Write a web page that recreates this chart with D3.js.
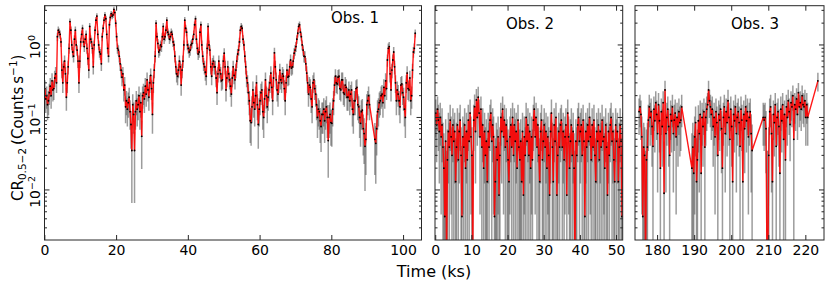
<!DOCTYPE html>
<html><head><meta charset="utf-8">
<script src="https://cdn.jsdelivr.net/npm/d3@7"></script>
<style>body{margin:0;background:#fff} text{font-family:"DejaVu Sans",sans-serif;fill:#000}</style>
</head><body><svg id="c" width="830" height="286"></svg>
<script>
// ---------------- data ----------------
const binKs = 0.25;
const obs1Start = 0;
const obs1Rate = [
0.25,0.18,0.2,0.15,0.17,0.22,0.27,0.2,0.32,0.24,0.25,0.35,0.4,0.3,1.3,1.6,1.5,1.4,1.1,0.45,
0.3,0.5,0.6,0.4,0.19,0.3,0.5,0.9,2.1,1.6,1.0,0.8,0.7,1.2,1.6,1.0,0.85,0.6,0.3,0.6,
1.1,1.4,1.7,1.1,0.95,1.2,1.4,0.9,0.65,0.45,1.8,1.2,1.1,0.9,0.5,1.0,1.6,2.2,2.5,1.4,
1.0,0.8,0.75,0.55,1.3,1.7,2.2,2.6,2.3,1.4,0.9,0.7,1.9,2.4,2.7,2.5,2.6,3.1,2.8,2.0,
1.3,0.9,0.85,0.7,0.55,0.45,0.36,0.4,0.24,0.28,0.14,0.17,0.13,0.16,0.19,0.12,0.08,0.035,0.15,0.11,
0.035,0.12,0.17,0.13,0.15,0.2,0.12,0.16,0.055,0.2,0.22,0.18,0.27,0.21,0.33,0.24,0.19,0.3,0.38,0.25,
0.11,0.3,0.45,0.7,2.0,1.3,1.05,0.8,0.85,1.0,0.95,1.3,1.8,1.2,1.3,1.6,2.2,1.5,1.4,1.2,
1.3,1.5,1.4,1.1,1.0,0.7,0.5,0.4,0.37,0.45,0.6,0.5,0.28,0.45,0.6,1.0,2.2,1.7,1.5,1.0,
0.9,0.8,0.85,1.0,1.05,1.2,1.4,1.9,2.3,1.2,0.9,0.75,0.8,1.5,1.9,1.0,0.7,0.55,0.5,0.42,
0.37,0.9,1.8,1.0,0.85,0.5,0.37,0.55,0.6,0.5,0.5,0.35,0.22,0.4,0.6,0.45,0.4,0.32,0.33,0.6,
0.77,0.5,0.24,0.35,0.5,0.4,0.33,0.27,0.21,0.35,0.5,0.38,0.33,0.45,0.6,0.75,0.85,1.1,1.6,1.8,
1.7,1.2,1.0,0.7,0.5,0.35,0.3,0.22,0.17,0.09,0.085,0.14,0.24,0.16,0.13,0.2,0.3,0.15,0.08,0.13,
0.17,0.22,0.24,0.12,0.1,0.18,0.33,0.2,0.14,0.19,0.24,0.3,0.41,0.26,0.17,0.35,0.78,0.5,0.33,0.24,
0.21,0.3,0.45,0.33,0.3,0.4,0.37,0.25,0.17,0.3,0.45,0.36,0.37,0.5,0.62,0.48,0.5,0.6,0.77,0.85,
0.95,1.2,1.45,1.8,1.9,1.5,1.3,1.0,0.85,0.7,0.69,0.55,0.41,0.3,0.21,0.28,0.26,0.18,0.14,0.3,
0.33,0.25,0.21,0.15,0.1,0.13,0.12,0.09,0.075,0.11,0.11,0.13,0.09,0.12,0.14,0.1,0.048,0.1,0.11,0.085,
0.083,0.13,0.17,0.28,0.37,0.3,0.29,0.36,0.37,0.25,0.24,0.33,0.33,0.22,0.21,0.28,0.26,0.19,0.19,0.24,
0.17,0.21,0.24,0.13,0.11,0.17,0.17,0.25,0.26,0.15,0.14,0.1,0.083,0.12,0.126,0.07,0.06,0.04,0.05,0.15,
0.17,0.2,0.15,null,null,null,null,null,0.05,0.044,0.07,0.12,0.13,0.16,0.17,0.2,0.21,0.16,0.26,0.2,
0.32,0.25,0.62,0.9,0.95,0.4,0.24,0.45,0.62,0.8,0.5,0.3,0.17,0.24,0.21,0.17,0.14,0.28,0.29,0.22,
0.19,0.13,0.1,0.3,0.41,0.25,0.24,0.35,0.17,0.2,0.45,0.8,0.9,1.45
];
const obs2Start = 0;
const obs2Rate = [
0.115,0.079,0.13,0.092,0.064,0.1,0.054,0.079,0.039,0.02,0.0043,0.047,0,0.026,0.064,0.039,0.092,0.054,0.03,0.079,
0.047,0.064,0.013,0.039,0.079,0.026,0.064,0.092,0.03,0.0043,0.054,0.039,0.079,0.02,0.064,0.026,0.092,0.047,0.115,0.054,
0.03,0,0.092,0.141,0.064,0.174,0.1,0.19,0.115,0.054,0.13,0.039,0.079,0.02,0.064,0.03,0.047,0.013,0.064,0.039,
0.092,0.115,0.047,0.079,0.054,0.0043,0.013,0.039,0.026,0.054,0.0085,0.03,0.1,0.064,0.13,0.054,0.092,0.039,0.079,0.047,
0.026,0.013,0.054,0.079,0.039,0.1,0.03,0.079,0.047,0.064,0.02,0.092,0.039,0.026,0.047,0.013,0.064,0.0085,0.054,0.03,
0.1,0.047,0.079,0.03,0.064,0.02,0.054,0.026,0.092,0.13,0.054,0.1,0.039,0.079,0.03,0.013,0.064,0.092,0.026,0.047,
0.079,0.039,0.064,0.02,0.054,0.03,0.0085,0.064,0.115,0.039,0.013,0.079,0.047,0.1,0.0085,0.03,0.064,0.039,0.079,0.092,
0.039,0.064,0.026,0.054,0.079,0.0085,0.115,0.054,0.02,0.047,0.079,0.03,0.064,0.02,0,0.047,0.03,0.079,0.1,0.047,
0.064,0.079,0.03,0.092,0.047,0.0043,0.064,0.039,0.079,0.047,0.1,0.054,0.026,0.079,0.039,0.092,0.03,0.013,0.064,0.047,
0.079,0.026,0.064,0.039,0.092,0.047,0.054,0.02,0.079,0.039,0.0085,0.064,0.03,0.079,0.1,0.047,0.064,0.026,0.013,0.079,
0.047,0.064,0.013,0.039,0.079,0.047,0.0043,0.064
];
const obs3SegStarts = [175.0, 189.25, 208.5, 223.25];
const obs3SegA = [0.12,0.14,0.11,0.054,0.0043,0.039,0.03,0,0.026,0.039,0.092,0.14,0.1,0.12,0.075,0.04,0.13,0.09,0.16,0.11,
0.06,0.15,0.09,0.02,0.12,0.075,0.16,0.009,0.24,0.06,0.1,0.13,0.075,0.03,0.11,0.09,0.14,0.06,0.092,0.115,
0.054,0.1,0.075,0.12,0.085,0.092,0.14];
const obs3SegB = [0.02,0.039,0.017,0.054,0.085,0.013,0.026,0.09,0.06,0.11,0.017,0.1,0.075,0.12,0.039,0.1,0.13,0.15,0.24,0.17,
0.14,0.11,0.13,0.075,0.1,0.054,0.12,0.085,0.03,0.11,0.092,0.13,0.07,0.02,0.1,0.14,0.06,0.12,0.085,0.17,
0.1,0.05,0.13,0.075,0.013,0.11,0.09,0.14,0.06,0.1,0.12,0.085,0.04,0.13,0.092,0.013,0.11,0.07,0.14,0.09,
0.12,0.054,0.1,0.12,0.06,0.035];
const obs3SegC = [0.1,0.092,0.1,0.07,0,0,0.03,0.12,0.14,0.06,0.013,0.11,0.085,0.15,0.04,0.1,0.12,0.075,0.017,0.13,
0.09,0.15,0.05,0.11,0.026,0.14,0.1,0.17,0.12,0.08,0.16,0.14,0.2,0.05,0.15,0.13,0.18,0.11,0.22,0.14,
0.16,0.13,0.2,0.15,0.14,0.17,0.1,0.15,0.1];
const obs3SegD = [0.32];

const obs1Ticks = [0, 20, 40, 60, 80, 100];
const obs2Ticks = [0, 10, 20, 30, 40, 50];
const obs3Ticks = [180, 190, 200, 210, 220];
const yMajorTicks = [1e-2, 1e-1, 1e0];
const panelLabels = ["Obs. 1", "Obs. 2", "Obs. 3"];

// ---------------- helpers ----------------
function toPoints(start, rates) {
  return rates.map((v, i) => ({ t: start + i * binKs, v })).filter(d => d.v !== null);
}
const obs3Rates = [obs3SegA, obs3SegB, obs3SegC, obs3SegD];
const panels = [
  { pts: toPoints(obs1Start, obs1Rate), dom: [-0.1, 105], rng: [44.5, 421.5], ticks: obs1Ticks, label: panelLabels[0], lx: 355, ly: 23, ea: 0.023, eb: 0.0 },
  { pts: toPoints(obs2Start, obs2Rate), dom: [-0.2, 51.7], rng: [435, 622.7], ticks: obs2Ticks, label: panelLabels[1], lx: 530, ly: 29, ea: 0.023, eb: 0.0012 },
  { pts: obs3Rates.flatMap((r, k) => toPoints(obs3SegStarts[k], r)), dom: [173.9, 224.9], rng: [635, 824], ticks: obs3Ticks, label: panelLabels[2], lx: 755, ly: 29, ea: 0.023, eb: 0.0012 }
];

const svg = d3.select("#c");
const defs = svg.append("defs");
const yTop = 5.7, yBot = 240;
const y = d3.scaleLog().domain([0.00204, 3.48]).range([yBot, yTop]);
const frameColor = "#262626";

// minor y ticks
const yMinor = [];
for (let e = -3; e <= 0; e++) for (let m = 2; m <= 9; m++) {
  const v = m * Math.pow(10, e);
  if (v >= y.domain()[0] && v <= y.domain()[1]) yMinor.push(v);
}

panels.forEach((p, k) => {
  const x = d3.scaleLinear().domain(p.dom).range(p.rng);
  const g = svg.append("g");
  const cid = "clip" + k;
  defs.append("clipPath").attr("id", cid).append("rect")
    .attr("x", p.rng[0]).attr("y", yTop).attr("width", p.rng[1] - p.rng[0]).attr("height", yBot - yTop);
  const plot = g.append("g").attr("clip-path", `url(#${cid})`);
  const err = v => Math.sqrt(p.ea * Math.max(v, 0) + p.eb);
  const yv = v => v > 0 ? y(v) : yBot + 20;

  plot.append("g").selectAll("line").data(p.pts).join("line")
    .attr("x1", d => x(d.t)).attr("x2", d => x(d.t))
    .attr("y1", d => yv(d.v - err(d.v)))
    .attr("y2", d => yv(d.v + err(d.v)))
    .attr("stroke", "#5a5a5a").attr("stroke-opacity", 0.6).attr("stroke-width", 1.5);

  plot.append("path").datum(p.pts)
    .attr("d", d3.line().x(d => x(d.t)).y(d => yv(d.v)))
    .attr("fill", "none").attr("stroke", "#ff0000").attr("stroke-opacity", 0.9)
    .attr("stroke-width", 1.4).attr("stroke-linejoin", "round");

  plot.append("g").selectAll("circle").data(p.pts.filter(d => d.v > 0)).join("circle")
    .attr("cx", d => x(d.t)).attr("cy", d => y(d.v)).attr("r", 0.9).attr("fill", "#000");

  // frame
  g.append("rect").attr("x", p.rng[0]).attr("y", yTop)
    .attr("width", p.rng[1] - p.rng[0]).attr("height", yBot - yTop)
    .attr("fill", "none").attr("stroke", frameColor).attr("stroke-width", 1);

  // x ticks (bottom + top, inward)
  const tg = g.append("g").attr("stroke", frameColor).attr("stroke-width", 1);
  p.ticks.forEach(t => {
    const xx = x(t);
    tg.append("line").attr("x1", xx).attr("x2", xx).attr("y1", yBot).attr("y2", yBot - 5);
    tg.append("line").attr("x1", xx).attr("x2", xx).attr("y1", yTop).attr("y2", yTop + 5);
  });
  g.append("g").selectAll("text").data(p.ticks).join("text")
    .attr("x", d => x(d)).attr("y", 255).attr("text-anchor", "middle")
    .attr("font-size", 14).text(d => d);

  // y ticks (left + right, inward)
  yMajorTicks.forEach(v => {
    const yy = y(v);
    tg.append("line").attr("x1", p.rng[0]).attr("x2", p.rng[0] + 5).attr("y1", yy).attr("y2", yy);
    tg.append("line").attr("x1", p.rng[1]).attr("x2", p.rng[1] - 5).attr("y1", yy).attr("y2", yy);
  });
  yMinor.forEach(v => {
    const yy = y(v);
    tg.append("line").attr("x1", p.rng[0]).attr("x2", p.rng[0] + 2.5).attr("y1", yy).attr("y2", yy);
    tg.append("line").attr("x1", p.rng[1]).attr("x2", p.rng[1] - 2.5).attr("y1", yy).attr("y2", yy);
  });

  g.append("text").attr("x", p.lx).attr("y", p.ly).attr("text-anchor", "middle")
    .attr("font-size", 15).text(p.label);

  if (k === 0) {
    yMajorTicks.forEach(v => {
      const t = g.append("text").attr("transform", `translate(40,${y(v) + 2}) rotate(-90)`)
        .attr("text-anchor", "middle").attr("font-size", 14);
      t.append("tspan").text("10");
      t.append("tspan").attr("dy", -5.5).attr("font-size", 9.5).text(v === 1 ? "0" : "\u2212" + Math.round(-Math.log10(v)));
    });
  }
});

// axis labels
const yl = svg.append("text").attr("transform", "translate(22.5,201) rotate(-90)")
  .attr("text-anchor", "start").attr("font-size", 15);
yl.append("tspan").text("CR");
yl.append("tspan").attr("dy", 3.5).attr("font-size", 10.5).text("0.5\u22122");
yl.append("tspan").attr("dy", -3.5).text("\u2009(Counts\u2009s");
yl.append("tspan").attr("dy", -6).attr("font-size", 10.5).text("\u22121");
yl.append("tspan").attr("dy", 6).text(")");

svg.append("text").attr("x", 434).attr("y", 277).attr("text-anchor", "middle")
  .attr("font-size", 16).text("Time (ks)");
</script></body></html>
